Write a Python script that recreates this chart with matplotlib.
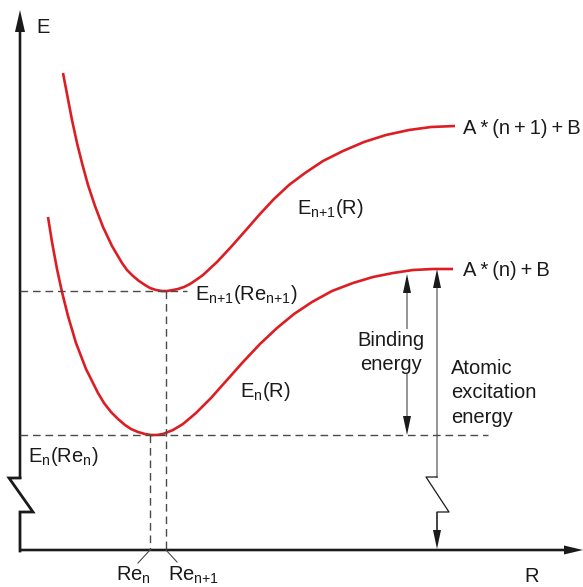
import numpy as np
import matplotlib.pyplot as plt

plt.rcParams['font.family'] = ['Liberation Sans', 'DejaVu Sans']
plt.rcParams['mathtext.fontset'] = 'custom'
plt.rcParams['mathtext.rm'] = 'Liberation Sans'
plt.rcParams['mathtext.it'] = 'Liberation Sans'

# Potential curves (x = R in px, y = E in px, y downward)
upper_r = [63, 67, 72, 77, 82, 88, 95, 103, 112, 122, 127, 133, 139, 145, 150, 156, 162,
           167, 173, 178, 184, 190, 196, 203, 217, 231, 246, 260, 274, 289, 305, 323,
           343, 364, 386, 409, 431, 455]
upper_e = [73, 94, 120, 143, 163, 185, 206, 227, 246, 263, 270, 276, 281, 285, 288, 290, 291,
           291, 290, 289, 287, 284, 280, 275, 262, 247, 230, 214, 199, 185, 173, 161,
           151, 142, 135, 130, 127, 126]
lower_r = [48, 52, 57, 62, 68, 76, 86, 98, 104, 111, 118, 125, 131, 138, 145, 151, 157,
           163, 168, 173, 183, 196, 211, 227, 243, 260, 277, 294, 312, 332, 353, 373,
           393, 413, 433, 453]
lower_e = [217, 242, 269, 292, 316, 343, 369, 393, 403, 412, 419, 425, 429, 432, 434, 435, 435,
           434, 432, 430, 424, 413, 398, 380, 362, 344, 328, 314, 302, 291, 283, 277,
           273, 270, 269, 269]

red = '#dc1e24'
ink = '#1a1a1a'
dash_col = '#4a4a4a'

fig = plt.figure(figsize=(5.83, 5.87), dpi=100)
ax = fig.add_axes([0, 0, 1, 1])
ax.set_xlim(0, 583)
ax.set_ylim(587, 0)
ax.axis('off')

# curves
ax.plot(upper_r, upper_e, color=red, lw=1.9, solid_capstyle='butt', solid_joinstyle='round')
ax.plot(lower_r, lower_e, color=red, lw=1.9, solid_capstyle='butt', solid_joinstyle='round')

# dashed guide lines
dkw = dict(color=dash_col, lw=1.0, dashes=(5.5, 3.5))
ax.plot([20, 187], [291, 291], **dkw)
ax.plot([20, 488], [435, 435], **dkw)
ax.plot([166, 166], [291, 550], **dkw)
ax.plot([150, 150], [435, 550], **dkw)
# leader lines to Re labels
ax.plot([150, 138], [550, 563], color=dash_col, lw=0.8)
ax.plot([166, 177], [550, 562], color=dash_col, lw=0.8)

# axes with break on E axis
ax.plot([20, 20, 9, 33, 20, 20], [478, 478, 478, 512, 512, 551], color=ink, lw=2.0,
        solid_joinstyle='miter')
ax.arrow(20, 479, 0, -469, width=2.6, head_width=10, head_length=22,
         length_includes_head=True, color=ink, lw=0)
ax.arrow(19, 550, 564, 0, width=2.6, head_width=9, head_length=19,
         length_includes_head=True, color=ink, lw=0)

# binding energy arrow
akw = dict(width=0.9, head_width=8, head_length=19, length_includes_head=True, color=ink, lw=0)
ax.arrow(407, 329, 0, -55, **akw)
ax.arrow(407, 374, 0, 61, **akw)

# atomic excitation arrow with break
ax.arrow(437, 478, 0, -209, **akw)
ax.plot([437, 426, 449, 437, 437], [477, 477, 512, 512, 530], color=ink, lw=0.9)
ax.arrow(437, 512, 0, 37, **akw)

ts = '\u2009'
fs = 14.5
tk = dict(color=ink, fontsize=fs)
ax.text(36, 33, 'E', va='baseline', **tk)
ax.text(524, 582, 'R', va='baseline', **tk)
ax.text(463, 134, f'A{ts}*{ts}(n{ts}+{ts}1){ts}+{ts}B', va='baseline', **tk)
ax.text(463, 276, f'A{ts}*{ts}(n){ts}+{ts}B', va='baseline', **tk)
ax.text(297, 214, r'$\mathrm{E_{n{+}1}(R)}$', va='baseline', **tk)
ax.text(195, 300, r'$\mathrm{E_{n{+}1}(Re_{n{+}1})}$', va='baseline', **tk)
ax.text(240, 397, r'$\mathrm{E_{n}(R)}$', va='baseline', **tk)
ax.text(28, 462, r'$\mathrm{E_{n}(Re_{n})}$', va='baseline', **tk)
ax.text(116, 581, r'$\mathrm{Re_{n}}$', va='baseline', **tk)
ax.text(168, 581, r'$\mathrm{Re_{n{+}1}}$', va='baseline', **tk)
ax.text(391, 346, 'Binding', ha='center', va='baseline', **tk)
ax.text(391, 370, 'energy', ha='center', va='baseline', **tk)
ax.text(451, 374, 'Atomic', va='baseline', **tk)
ax.text(451, 398, 'excitation', va='baseline', **tk)
ax.text(451, 423, 'energy', va='baseline', **tk)

fig.savefig('out.png', dpi=100, facecolor='white')
